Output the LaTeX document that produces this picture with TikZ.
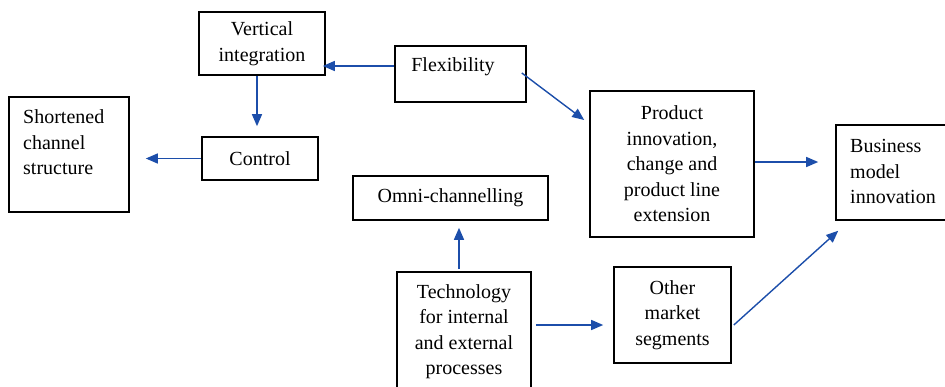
\documentclass[tikz,border=0pt]{standalone}
\usepackage{fontspec}
\newfontfamily\fa{Liberation Serif}
\newfontfamily\fb{LiberationSerif}[Extension=.ttf,UprightFont=*-Regular]
\usetikzlibrary{arrows.meta}
\definecolor{arrowblue}{RGB}{28,78,170}
\tikzset{
  box/.style={draw=black,line width=1.6pt,rectangle,inner sep=0pt},
  lbl/.style={font=\fb\fontsize{20}{25.5}\selectfont,align=center,inner sep=0pt},
  lbll/.style={font=\fb\fontsize{20}{25.5}\selectfont,align=left,inner sep=0pt,anchor=west},
  arr/.style={draw=arrowblue,line width=1.4pt,-{Triangle[length=12pt,width=10pt]}}
}
\begin{document}
\begin{tikzpicture}[x=1pt,y=-1pt]
\useasboundingbox (0,0) rectangle (945,386);

% boxes
\node[box,lbl,minimum width=126pt,minimum height=63pt] (vi) at (262,43.5) {Vertical\\integration};
\node[box,minimum width=120pt,minimum height=115pt] (short) at (69,154.5) {};
\node[lbll] (shortT) at (23,142.5) {Shortened\\channel\\structure};
\node[box,lbl,minimum width=116pt,minimum height=43pt] (control) at (260,158.5) {Control};
\node[box,minimum width=131pt,minimum height=56pt] (flex) at (460.5,74) {};
\node[lbl] (flexT) at (453,67) {Flexibility};
\node[box,lbl,minimum width=164pt,minimum height=146pt] (product) at (672,164) {Product\\innovation,\\change and\\product line\\extension};
\node[box,minimum width=124pt,minimum height=95pt] (business) at (898,172.5) {};
\node[lbll] (businessT) at (850,171.5) {Business\\model\\innovation};
\node[box,lbl,minimum width=195pt,minimum height=44pt] (omni) at (450.5,198) {Omni-channelling};
\node[box,lbl,minimum width=134pt,minimum height=119pt] (tech) at (464,331.5) {Technology\\for internal\\and external\\processes};
\node[box,lbl,minimum width=117pt,minimum height=96pt] (other) at (672.5,315) {Other\\market\\segments};

% connectors
\coordinate (f2v) at ([yshift=8pt]flex.west);
\draw[arr,shorten >=-3pt] (f2v) -- (vi.east |- f2v);

\coordinate (v2c) at ([xshift=-5pt]vi.south);
\draw[arr,shorten >=10pt] (v2c) -- (v2c |- control.north);

\draw[arr,shorten >=16pt] (control.west) -- (short.east |- control.west);

\draw[arr] ([xshift=-5pt,yshift=1pt]flex.east) -- ([xshift=-5pt,yshift=44pt]product.west);

\coordinate (p2b) at ([yshift=2pt]product.east);
\draw[arr,shorten >=17pt] (p2b) -- (business.west |- p2b);

\coordinate (t2o) at ([xshift=-5pt]tech.north);
\draw[arr,shorten <=2pt,shorten >=7pt] (t2o) -- (t2o |- omni.south);

\coordinate (t2m) at ([yshift=-10pt]other.west);
\draw[arr,shorten <=4pt,shorten >=10pt] (tech.east |- t2m) -- (t2m);

\draw[arr] ([xshift=2pt,yshift=-10pt]other.east) -- ([xshift=3pt,yshift=-10pt]business.south west);
\end{tikzpicture}
\end{document}
